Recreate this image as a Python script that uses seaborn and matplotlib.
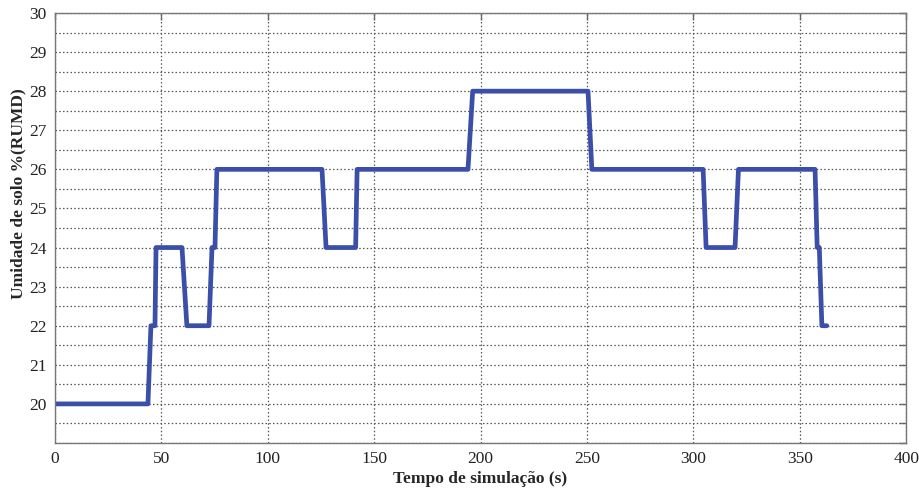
import numpy as np
import pandas as pd
import matplotlib
matplotlib.use("Agg")
import matplotlib.pyplot as plt
import seaborn as sns

# Soil moisture (% RUMD) over the simulation time (s)
tempo = [0.0, 43.7, 45.1, 47.0, 47.5, 59.7, 62.0, 72.4, 73.8, 75.2, 76.1,
         125.5, 127.4, 141.3, 142.0, 194.1, 196.3, 250.5, 252.3, 304.6, 306.0,
         319.6, 321.2, 357.2, 358.2, 359.2, 360.4, 362.7]
umidade = [20, 20, 22, 22, 24, 24, 22, 22, 24, 24, 26,
           26, 24, 24, 26, 26, 28, 28, 26, 26, 24,
           24, 26, 26, 24, 24, 22, 22]

x_ticks = [0, 50, 100, 150, 200, 250, 300, 350, 400]
y_labels = [20, 21, 22, 23, 24, 25, 26, 27, 28, 29, 30]

df = pd.DataFrame({"tempo": tempo, "umidade": umidade})

sns.set_style("white")
plt.rcParams["font.family"] = ["Liberation Serif", "DejaVu Serif"]

fig = plt.figure(figsize=(9.19, 4.92), dpi=100)
ax = fig.add_axes([0.0598, 0.0996, 0.9262, 0.874])

sns.lineplot(data=df, x="tempo", y="umidade", ax=ax, color="#3b4fa8",
             linewidth=3.4, sort=False, estimator=None)

ax.set_xlim(0, 400)
ax.set_ylim(19, 30)
ax.set_xticks(x_ticks)
ax.set_xticklabels([str(v) for v in x_ticks])

y_pos = np.arange(19, 30.01, 0.5)
ax.set_yticks(y_pos)
ax.set_yticklabels([str(int(v)) if (v == int(v) and int(v) in y_labels) else "" for v in y_pos])

ax.grid(True, linestyle=(0, (1.2, 1.8)), color="#555555", linewidth=0.9)

for s in ax.spines.values():
    s.set_color("#777777")
    s.set_linewidth(1.0)

ax.tick_params(axis="both", direction="in", length=5, width=1.0, color="#666666",
               top=True, right=True, labelsize=12.5, labelcolor="#222222", pad=6)

ax.set_xlabel("Tempo de simulação (s)", fontsize=12.5, fontweight="bold", labelpad=3)
ax.set_ylabel("Umidade de solo %(RUMD)", fontsize=12.5, fontweight="bold", labelpad=6)
ax.yaxis.set_label_coords(-0.034, 0.58)

fig.savefig("out.png", dpi=100)
